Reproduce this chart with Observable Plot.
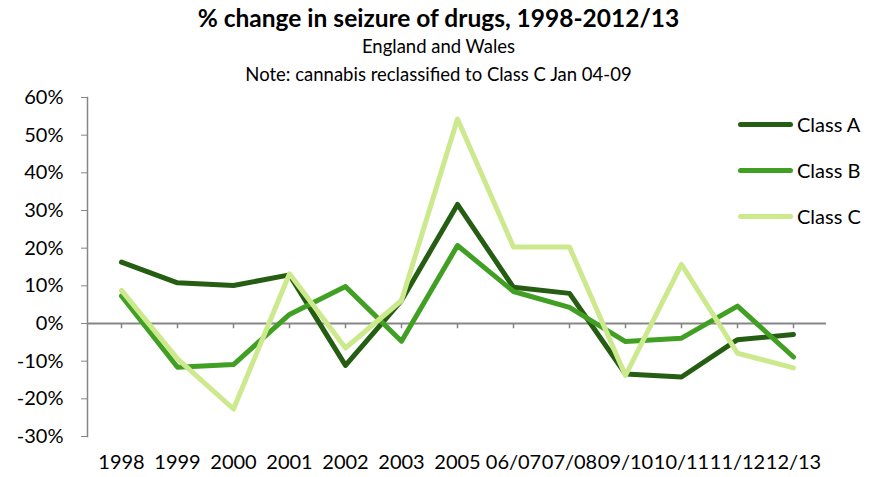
<!DOCTYPE html>
<html><head><meta charset="utf-8">
<script src="https://cdn.jsdelivr.net/npm/d3@7"></script>
<script src="https://cdn.jsdelivr.net/npm/@observablehq/plot@0.6"></script>
<style>
body{margin:0;background:#fff;font-family:Lato,"Open Sans",sans-serif;}
#wrap{position:relative;width:877px;height:477px;overflow:hidden;background:#fff;}
.t{position:absolute;left:0;width:877px;text-align:center;color:#000;white-space:nowrap;line-height:1;}
#title{top:6px;font-weight:bold;font-size:24.5px;}
#sub{top:37px;font-size:18.5px;}
#note{top:65px;font-size:18.5px;}
#chart{position:absolute;left:0;top:85px;}
#legend{position:absolute;left:738px;top:101px;}
.li{display:flex;align-items:center;height:46px;font-size:20px;color:#000;}
.sw{width:55px;height:5px;border-radius:3px;margin-right:4px;}
</style></head>
<body>
<div id="wrap">
  <div class="t" id="title"></div>
  <div class="t" id="sub"></div>
  <div class="t" id="note"></div>
  <div id="chart"></div>
  <div id="legend"></div>
</div>
<script>
const titleText = "% change in seizure of drugs, 1998-2012/13";
const subtitleText = "England and Wales";
const noteText = "Note: cannabis reclassified to Class C Jan 04-09";

const categories = ["1998","1999","2000","2001","2002","2003","2005","06/07","07/08","09/10","10/11","11/12","12/13"];
const seriesNames = ["Class A","Class B","Class C"];
const seriesColors = ["#255E13","#41A024","#CDE98D"];
const classA = [16.3, 10.8, 10.1, 12.9, -11.1, 6.1, 31.6, 9.6, 8.0, -13.4, -14.2, -4.3, -2.9];
const classB = [7.3, -11.6, -10.9, 2.4, 9.8, -4.7, 20.7, 8.5, 4.3, -4.8, -3.9, 4.6, -8.9];
const classC = [8.8, -9.4, -22.7, 13.2, -6.5, 6.1, 54.3, 20.3, 20.3, -13.8, 15.7, -7.9, -11.8];
const yTicks = [-30,-20,-10,0,10,20,30,40,50,60];

document.getElementById("title").textContent = titleText;
document.getElementById("sub").textContent = subtitleText;
document.getElementById("note").textContent = noteText;

const seriesValues = [classA, classB, classC];
const data = seriesNames.flatMap((name, s) =>
  categories.map((c, i) => ({cat: c, value: seriesValues[s][i], cls: name})));

const axisColor = "#868686";
const chart = Plot.plot({
  width: 877, height: 392,
  marginTop: 12, marginBottom: 41, marginLeft: 87, marginRight: 51,
  style: {fontFamily: "Lato, 'Open Sans', sans-serif", fontSize: "20px", color: "#000", background: "#fff", overflow: "visible"},
  x: {type: "point", domain: categories, padding: 0.5, label: null},
  y: {domain: [-30, 60], label: null},
  color: {domain: seriesNames, range: seriesColors},
  marks: [
    Plot.ruleY([0], {stroke: axisColor, strokeWidth: 2}),
    Plot.ruleX(categories, {x: d => d, y1: 0, y2: -1.4, stroke: axisColor, strokeWidth: 1.5}),
    Plot.frame({anchor: "left", stroke: axisColor, strokeWidth: 1.5}),
    Plot.axisY({ticks: yTicks, tickFormat: d => d + "%", tickSize: 6, tickPadding: 18, stroke: axisColor, fill: "#000", label: null, fontSize: 20}),
    Plot.axisX({tickSize: 0, tickPadding: 18, fill: "#000", label: null, fontSize: 20}),
    Plot.line(data, {x: "cat", y: "value", z: "cls", stroke: "cls", strokeWidth: 5, strokeLinejoin: "round", strokeLinecap: "round"})
  ]
});
document.getElementById("chart").appendChild(chart);

const legend = document.getElementById("legend");
seriesNames.forEach((n, i) => {
  const row = document.createElement("div");
  row.className = "li";
  const sw = document.createElement("div");
  sw.className = "sw";
  sw.style.background = seriesColors[i];
  const lab = document.createElement("span");
  lab.textContent = n;
  row.appendChild(sw); row.appendChild(lab);
  legend.appendChild(row);
});
</script>
</body></html>
